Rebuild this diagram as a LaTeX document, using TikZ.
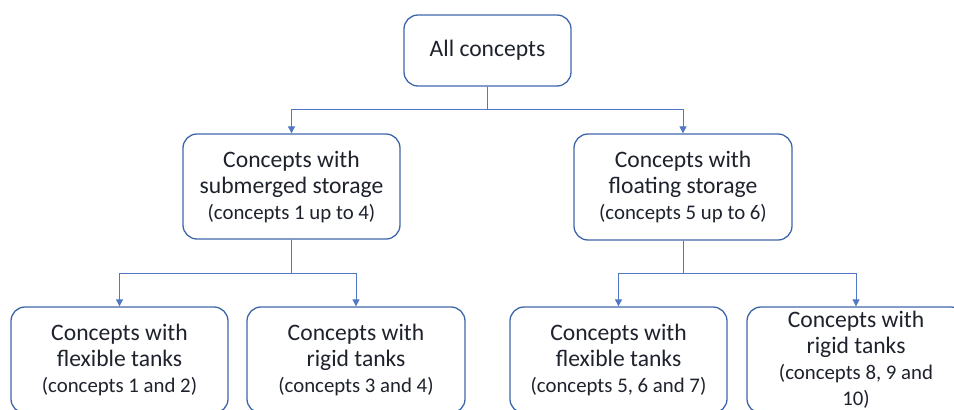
\documentclass[tikz,border=0pt]{standalone}
\usepackage{fontspec}
\setmainfont{Carlito}
\usetikzlibrary{arrows.meta}
\definecolor{boxblue}{RGB}{64,102,170}
\definecolor{lineblue}{RGB}{80,120,196}
\definecolor{txt}{RGB}{30,34,44}
\tikzset{
  box/.style={draw=boxblue, line width=1.3pt, rounded corners=14pt, fill=white,
    align=center, inner sep=0pt, text=txt,
    font=\fontsize{23.6}{26}\selectfont},
  conn/.style={draw=lineblue, line width=0.9pt,
    -{Triangle[width=7pt,length=7pt]}},
}
\newcommand{\smallline}[1]{{\fontsize{20.8}{25}\selectfont #1}}
\begin{document}
\begin{tikzpicture}[x=1pt,y=-1pt]
\useasboundingbox (0,0) rectangle (954,410);
\clip (0,0) rectangle (954,410);
\fill[white] (0,0) rectangle (954,410);
\node[box, minimum width=167pt, minimum height=71pt] (top) at (487.5,50.5) {All concepts};
\node[box, minimum width=217pt, minimum height=105pt] (ml) at (291.5,186.5)
  {Concepts with\\submerged storage\\\smallline{(concepts 1 up to 4)}};
\node[box, minimum width=218pt, minimum height=106pt] (mr) at (683,187)
  {Concepts with\\floating storage\\\smallline{(concepts 5 up to 6)}};
\node[box, minimum width=217pt, minimum height=106pt] (b1) at (119.5,360)
  {Concepts with\\flexible tanks\\\smallline{(concepts 1 and 2)}};
\node[box, minimum width=218pt, minimum height=106pt] (b2) at (356,360)
  {Concepts with\\rigid tanks\\\smallline{(concepts 3 and 4)}};
\node[box, minimum width=217pt, minimum height=106pt] (b3) at (618.5,360)
  {Concepts with\\flexible tanks\\\smallline{(concepts 5, 6 and 7)}};
\node[box, minimum width=218pt, minimum height=106pt] (b4) at (856,360)
  {Concepts with\\rigid tanks\\\smallline{(concepts 8, 9 and}\\\smallline{10)}};
\draw[conn] (top.south) -- ++(0,23) -| (ml.north);
\draw[conn] (top.south) -- ++(0,23) -| (mr.north);
\draw[conn] (ml.south) -- ++(0,34) -| (b1.north);
\draw[conn] (ml.south) -- ++(0,34) -| (b2.north);
\draw[conn] (mr.south) -- ++(0,33) -| (b3.north);
\draw[conn] (mr.south) -- ++(0,33) -| (b4.north);
\end{tikzpicture}
\end{document}
